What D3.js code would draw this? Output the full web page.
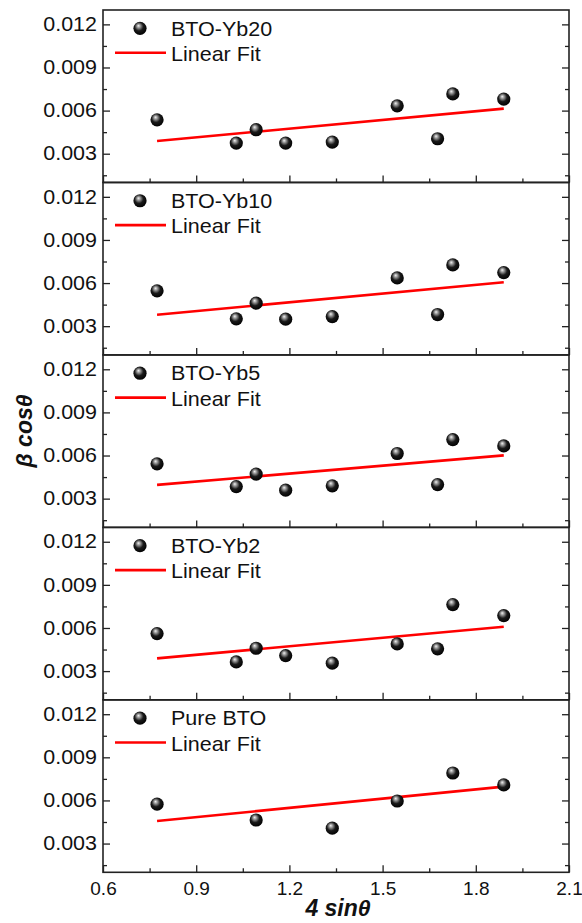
<!DOCTYPE html>
<html>
<head>
<meta charset="utf-8">
<script src="https://cdn.jsdelivr.net/npm/d3@7"></script>
<style>
  html, body { margin: 0; padding: 0; background: #fff; }
  svg { display: block; }
  text { font-family: Arial, "Liberation Sans", sans-serif; fill: #111; }
</style>
</head>
<body>
<svg id="chart" width="582" height="923"></svg>
<script>
// Williamson–Hall data: 4 sinθ on x, β cosθ on y, one panel per sample
const xDoped = [0.774, 1.029, 1.093, 1.188, 1.338, 1.547, 1.677, 1.726, 1.890];
const xPure  = [0.774, 1.093, 1.338, 1.547, 1.726, 1.890];

const sampleNames = ["BTO-Yb20", "BTO-Yb10", "BTO-Yb5", "BTO-Yb2", "Pure BTO"];

const yb20 = [0.00536, 0.00374, 0.00467, 0.00374, 0.00381, 0.00633, 0.00404, 0.00716, 0.00680];
const yb10 = [0.00546, 0.00351, 0.00460, 0.00349, 0.00367, 0.00636, 0.00381, 0.00726, 0.00673];
const yb5  = [0.00542, 0.00384, 0.00471, 0.00359, 0.00389, 0.00614, 0.00398, 0.00711, 0.00667];
const yb2  = [0.00561, 0.00364, 0.00459, 0.00408, 0.00355, 0.00489, 0.00455, 0.00763, 0.00686];
const pureBTO = [0.00574, 0.00464, 0.00407, 0.00596, 0.00791, 0.00708];

const xTicks = [0.6, 0.9, 1.2, 1.5, 1.8, 2.1];
const xMinor = [0.75, 1.05, 1.35, 1.65, 1.95];
const yTicks = [0.003, 0.006, 0.009, 0.012];
const yMinor = [0.0015, 0.0045, 0.0075, 0.0105];

const panels = [
  { name: sampleNames[0], xs: xDoped, ys: yb20 },
  { name: sampleNames[1], xs: xDoped, ys: yb10 },
  { name: sampleNames[2], xs: xDoped, ys: yb5 },
  { name: sampleNames[3], xs: xDoped, ys: yb2 },
  { name: sampleNames[4], xs: xPure,  ys: pureBTO }
];

const plotLeft = 103, plotRight = 569, plotTop = 10, plotBottom = 872.3;
const panelH = (plotBottom - plotTop) / panels.length;

const svg = d3.select("#chart");

// shaded sphere marker
const defs = svg.append("defs");
const grad = defs.append("radialGradient")
  .attr("id", "sphere").attr("cx", "0.45").attr("cy", "0.42").attr("r", "0.6")
  .attr("fx", "0.38").attr("fy", "0.3");
grad.append("stop").attr("offset", "0%").attr("stop-color", "#f2f2f2");
grad.append("stop").attr("offset", "22%").attr("stop-color", "#9a9a9a");
grad.append("stop").attr("offset", "55%").attr("stop-color", "#1a1a1a");
grad.append("stop").attr("offset", "100%").attr("stop-color", "#000");

const x = d3.scaleLinear().domain([0.6, 2.1]).range([plotLeft, plotRight]);

function linFit(xs, ys) {
  const mx = d3.mean(xs), my = d3.mean(ys);
  let sxy = 0, sxx = 0;
  xs.forEach((v, i) => { sxy += (v - mx) * (ys[i] - my); sxx += (v - mx) * (v - mx); });
  const b = sxy / sxx;
  return { a: my - b * mx, b };
}

panels.forEach((p, i) => {
  const y0 = plotTop + i * panelH;
  const y = d3.scaleLinear().domain([0.001, 0.013]).range([y0 + panelH, y0]);
  const g = svg.append("g");
  const isLast = i === panels.length - 1;

  // left axis with labels, ticks inward
  const yl = g.append("g").attr("transform", `translate(${plotLeft},0)`)
    .call(d3.axisLeft(y).tickValues(yTicks).tickSize(-7).tickPadding(5.5).tickFormat(d3.format(".3f")));
  g.append("g").attr("transform", `translate(${plotLeft},0)`)
    .call(d3.axisLeft(y).tickValues(yMinor).tickSize(-4).tickFormat(""));
  // right axis, ticks only
  g.append("g").attr("transform", `translate(${plotRight},0)`)
    .call(d3.axisRight(y).tickValues(yTicks).tickSize(-7).tickFormat(""));
  g.append("g").attr("transform", `translate(${plotRight},0)`)
    .call(d3.axisRight(y).tickValues(yMinor).tickSize(-4).tickFormat(""));
  // bottom axis
  const xb = g.append("g").attr("transform", `translate(0,${y0 + panelH})`)
    .call(d3.axisBottom(x).tickValues(xTicks).tickSize(-7).tickPadding(9)
      .tickFormat(isLast ? d3.format(".1f") : ""));
  g.append("g").attr("transform", `translate(0,${y0 + panelH})`)
    .call(d3.axisBottom(x).tickValues(xMinor).tickSize(-4).tickFormat(""));

  g.selectAll(".domain").remove();
  g.selectAll(".tick line").attr("stroke", "#222").attr("stroke-width", 1.3);
  g.selectAll(".tick text")
    .style("font-family", "Arial, 'Liberation Sans', sans-serif")
    .attr("fill", "#111");
  yl.selectAll(".tick text").style("font-size", "19.5px").attr("transform", "scale(1.1,1)");
  xb.selectAll(".tick text").style("font-size", "19px");

  // frame
  g.append("rect").attr("x", plotLeft).attr("y", y0).attr("width", plotRight - plotLeft).attr("height", panelH)
    .attr("fill", "none").attr("stroke", "#222").attr("stroke-width", 1.6);

  // linear fit over the measured range
  const f = linFit(p.xs, p.ys);
  const xe = d3.extent(p.xs);
  g.append("line")
    .attr("x1", x(xe[0])).attr("y1", y(f.a + f.b * xe[0]))
    .attr("x2", x(xe[1])).attr("y2", y(f.a + f.b * xe[1]))
    .attr("stroke", "#ff0000").attr("stroke-width", 2.6);

  // data points
  g.selectAll("circle.pt").data(p.xs.map((v, k) => [v, p.ys[k]])).join("circle")
    .attr("class", "pt")
    .attr("cx", d => x(d[0])).attr("cy", d => y(d[1])).attr("r", 6.6)
    .attr("fill", "url(#sphere)");

  // legend
  const lg = g.append("g").attr("transform", `translate(0,${y0})`);
  lg.append("circle").attr("cx", 140).attr("cy", 18.3).attr("r", 6.6).attr("fill", "url(#sphere)");
  lg.append("text").attr("transform", "translate(171,25.5) scale(1.05,1)")
    .style("font-size", "20.5px").text(p.name);
  lg.append("line").attr("x1", 115).attr("x2", 166).attr("y1", 42.7).attr("y2", 42.7)
    .attr("stroke", "#ff0000").attr("stroke-width", 2.6);
  lg.append("text").attr("transform", "translate(171,51) scale(1.05,1)")
    .style("font-size", "20.5px").text("Linear Fit");
});

// axis titles
svg.append("text")
  .attr("transform", `translate(${(plotLeft + plotRight) / 2 + 2},916)`)
  .attr("text-anchor", "middle")
  .style("font-size", "23px").style("font-weight", "bold").style("font-style", "italic")
  .text("4 sinθ");

svg.append("text")
  .attr("transform", "translate(32,431) rotate(-90)")
  .attr("text-anchor", "middle")
  .style("font-size", "23px").style("font-weight", "bold").style("font-style", "italic")
  .text("β cosθ");
</script>
</body>
</html>
